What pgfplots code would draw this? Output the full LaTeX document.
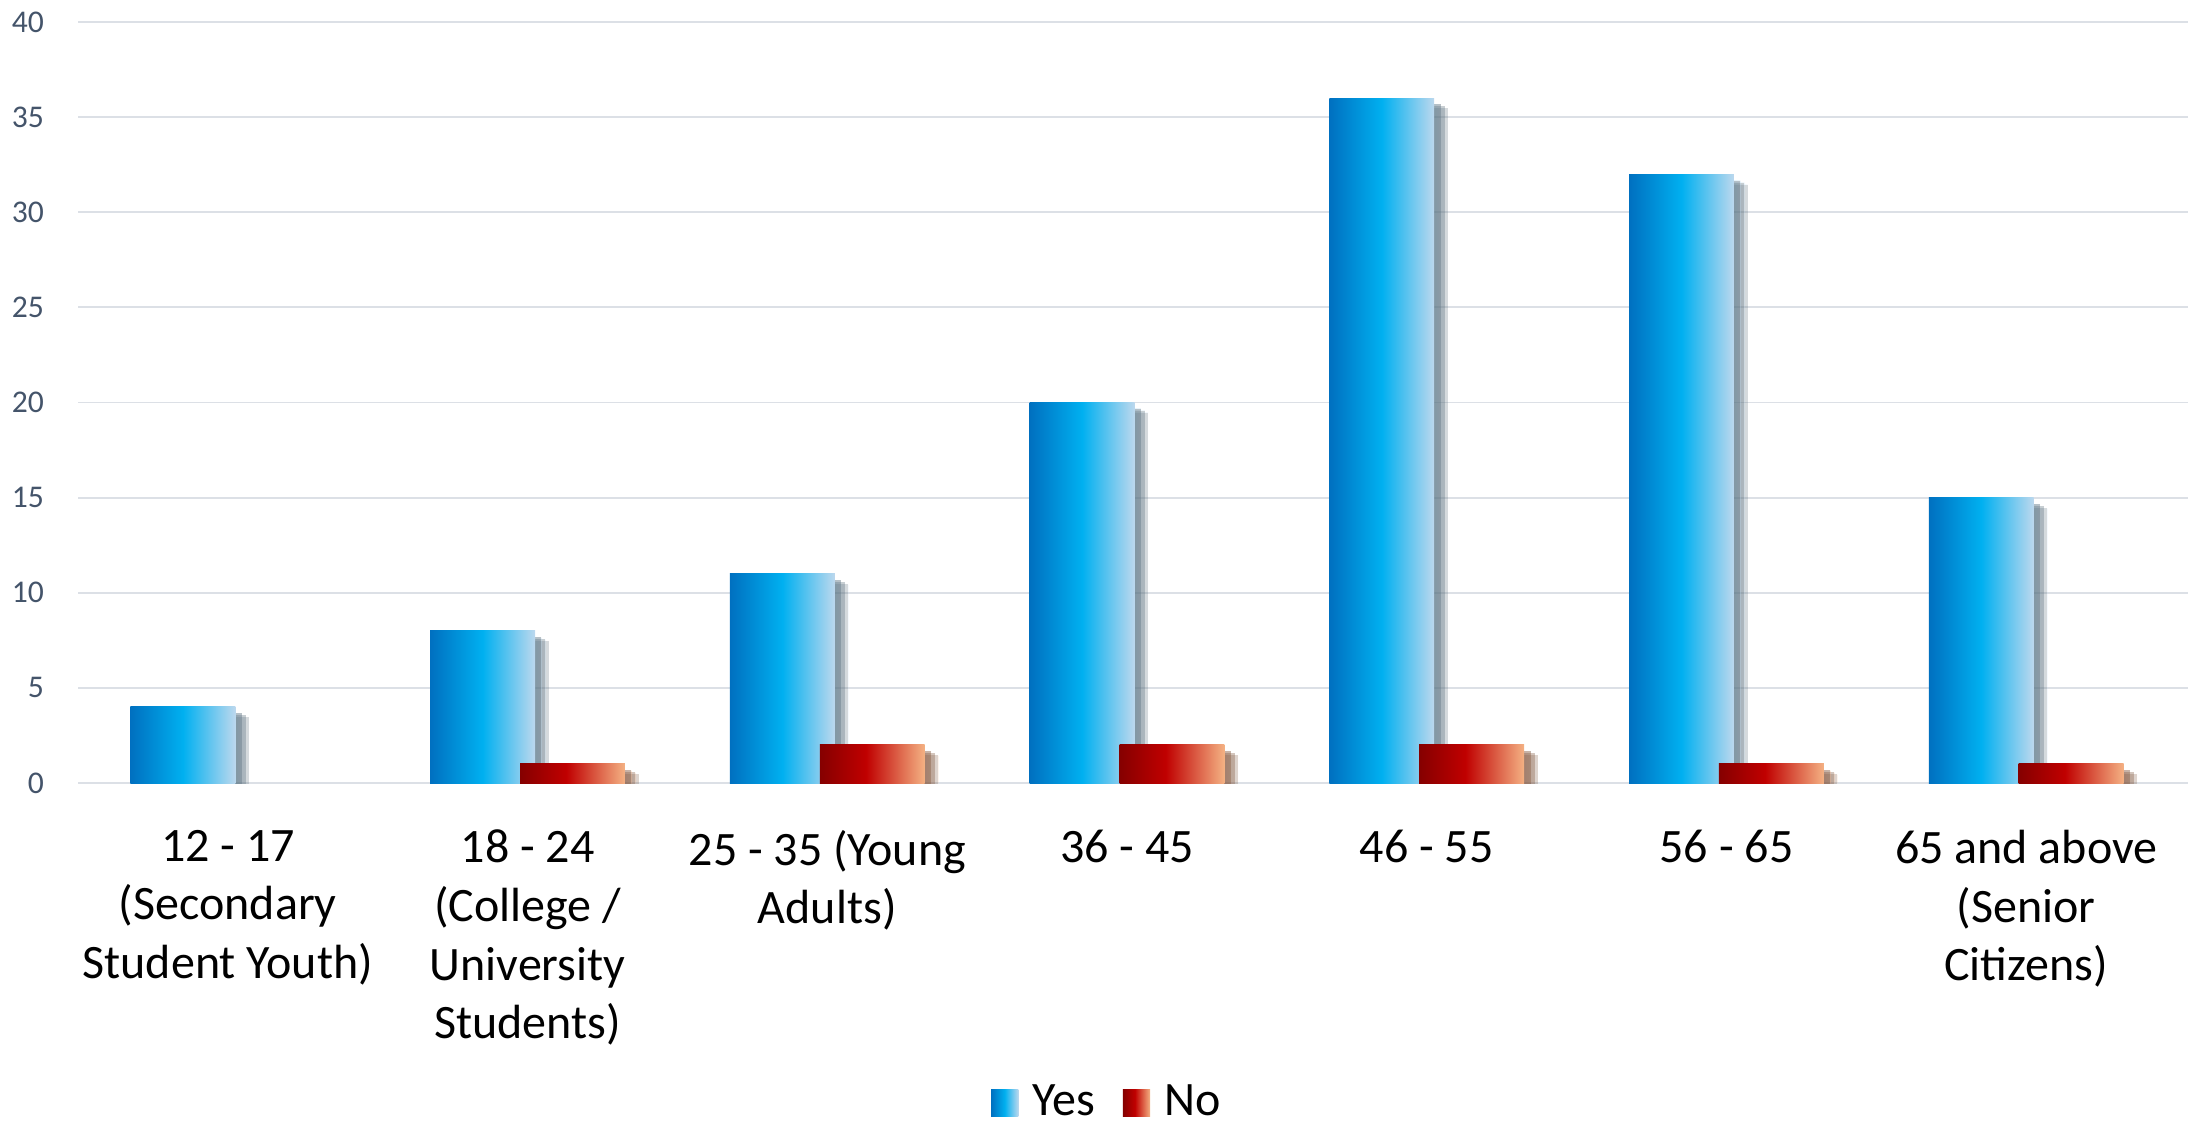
\documentclass[border=0pt]{standalone}
\usepackage{fontspec}
\setmainfont{Carlito}
\usepackage{pgfplots}
\pgfplotsset{compat=1.18}
\usetikzlibrary{shadows}
\definecolor{yesA}{HTML}{0070C0}
\definecolor{yesB}{HTML}{00B0F0}
\definecolor{yesC}{HTML}{BCD8EE}
\definecolor{noA}{HTML}{850000}
\definecolor{noB}{HTML}{C00000}
\definecolor{noC}{HTML}{F4B183}
\definecolor{gridc}{HTML}{DCE0E6}
\definecolor{tickc}{HTML}{44546A}
\pgfdeclarehorizontalshading{yesshade}{100bp}{color(0bp)=(yesA); color(25bp)=(yesA); color(50bp)=(yesB); color(75bp)=(yesC); color(100bp)=(yesC)}
\pgfdeclarehorizontalshading{noshade}{100bp}{color(0bp)=(noA); color(25bp)=(noA); color(47bp)=(noB); color(75bp)=(noC); color(100bp)=(noC)}
\tikzset{
  myshadow/.style={
    drop shadow={shadow xshift=3.4pt, shadow yshift=-2.6pt, opacity=0.14, fill=black},
    drop shadow={shadow xshift=2.6pt, shadow yshift=-2.1pt, opacity=0.2, fill=black},
    drop shadow={shadow xshift=1.6pt, shadow yshift=-1.6pt, opacity=0.28, fill=black}},
}
\pgfplotsset{
  yesbar/.style={draw=none, bar shift=-0.15, shading=yesshade, myshadow, forget plot},
  nobar/.style={draw=none, bar shift=0.15, shading=noshade, myshadow, forget plot},
}
\begin{document}
\begin{tikzpicture}
\begin{axis}[name=a, scale only axis, width=527.5pt, height=190.25pt,
  xmin=-0.5, xmax=6.54, ymin=0, ymax=40,
  ytick={0,5,...,40}, xtick={0,...,6},
  xticklabels={{12 - 17\\(Secondary\\Student Youth)},{18 - 24\\(College /\\University\\Students)},{25 - 35 (Young\\Adults)},{36 - 45},{46 - 55},{56 - 65},{65 and above\\(Senior\\Citizens)}},
  ymajorgrids, grid style={gridc, line width=0.45pt},
  axis line style={draw=none}, major tick style={draw=none},
  ybar, bar width=0.35,
  /pgf/number format/assume math mode=true,
  yticklabel style={font=\fontsize{7.9}{9}\selectfont, text=tickc, anchor=east, xshift=-5pt},
  xticklabel style={font=\fontsize{12}{14.65}\selectfont, align=center, anchor=north, yshift=-4pt},
  legend style={draw=none, fill=none, at={(0.489,-0.42)}, anchor=center, legend columns=2,
    font=\fontsize{12}{14}\selectfont,
    /tikz/every odd column/.append style={column sep=1.5pt},
    /tikz/every even column/.append style={column sep=5pt}},
  ]
% Yes
\addplot[yesbar] coordinates {(0,4)};
\addplot[yesbar] coordinates {(1,8)};
\addplot[yesbar] coordinates {(2,11)};
\addplot[yesbar] coordinates {(3,20)};
\addplot[yesbar] coordinates {(4,36)};
\addplot[yesbar] coordinates {(5,32)};
\addplot[yesbar] coordinates {(6,15)};
% No
\addplot[nobar] coordinates {(1,1)};
\addplot[nobar] coordinates {(2,2)};
\addplot[nobar] coordinates {(3,2)};
\addplot[nobar] coordinates {(4,2)};
\addplot[nobar] coordinates {(5,1)};
\addplot[nobar] coordinates {(6,1)};
\addlegendimage{legend image code/.code={\path[draw=none, shading=yesshade] (0pt,-3.4pt) rectangle (6.8pt,3.4pt);}}
\addlegendentry{Yes}
\addlegendimage{legend image code/.code={\path[draw=none, shading=noshade] (0pt,-3.4pt) rectangle (6.8pt,3.4pt);}}
\addlegendentry{No}
\end{axis}
\pgfresetboundingbox
\path[use as bounding box] ([xshift=-19.5pt,yshift=-84.75pt]a.south west) rectangle ([yshift=5.5pt]a.north east);
\end{tikzpicture}
\end{document}
